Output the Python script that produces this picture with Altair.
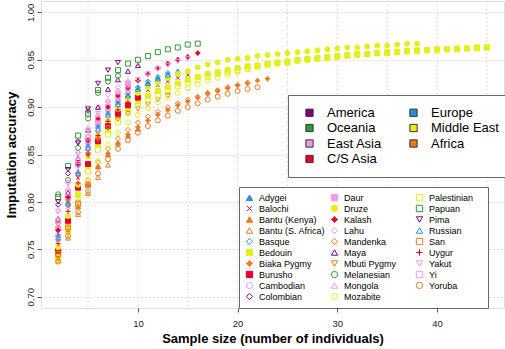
import altair as alt
import pandas as pd

START_X = 2

# ---------- accuracy values (sample size 2, 3, 4, ...) ----------
acc_adygei = [0.765, 0.800, 0.832, 0.860, 0.880, 0.894, 0.905, 0.913, 0.920, 0.926, 0.931, 0.935, 0.938]
acc_balochi = [0.760, 0.795, 0.825, 0.853, 0.872, 0.887, 0.898, 0.906, 0.912, 0.918, 0.923, 0.927, 0.931, 0.934]
acc_bantu_kenya = [0.742, 0.770, 0.795, 0.818, 0.837, 0.850, 0.862, 0.870, 0.877]
acc_bantu_sa = [0.738, 0.762, 0.787, 0.809, 0.826, 0.839]
acc_basque = [0.770, 0.805, 0.838, 0.862, 0.882, 0.897, 0.907, 0.915, 0.921, 0.927, 0.932, 0.936]
acc_bedouin = [0.745, 0.776, 0.808, 0.838, 0.860, 0.876, 0.889, 0.899, 0.906, 0.912, 0.917, 0.921, 0.925, 0.929,
               0.932, 0.935, 0.937, 0.939, 0.941, 0.943, 0.944, 0.946, 0.947, 0.948, 0.950, 0.951, 0.952, 0.953,
               0.954, 0.955, 0.956, 0.956, 0.957, 0.958, 0.958, 0.959, 0.960, 0.960, 0.961, 0.961, 0.962, 0.962,
               0.963, 0.963]
acc_biaka = [0.740, 0.768, 0.795, 0.818, 0.837, 0.851, 0.862, 0.871, 0.879, 0.886, 0.892, 0.897, 0.902, 0.906,
             0.910, 0.914, 0.917, 0.920, 0.923, 0.925, 0.928, 0.930]
acc_burusho = [0.748, 0.780, 0.815, 0.840, 0.864, 0.880, 0.893, 0.902, 0.910]
acc_cambodian = [0.765, 0.797, 0.830, 0.857, 0.880, 0.895, 0.905, 0.914]
acc_colombian = [0.797, 0.830, 0.864, 0.896]
acc_daur = [0.772, 0.805, 0.840, 0.865, 0.885, 0.900, 0.912, 0.925]
acc_druze = [0.752, 0.785, 0.818, 0.848, 0.870, 0.886, 0.898, 0.908, 0.915, 0.921, 0.926, 0.931, 0.935, 0.938,
             0.942, 0.945, 0.947, 0.950, 0.951, 0.952, 0.954, 0.955, 0.956, 0.957, 0.958, 0.959, 0.960, 0.961,
             0.962, 0.963, 0.963, 0.964, 0.965, 0.965, 0.966, 0.967, 0.967]
acc_kalash = [0.770, 0.805, 0.840, 0.865, 0.888, 0.900, 0.912, 0.920, 0.928, 0.935, 0.941, 0.946, 0.950, 0.953, 0.957]
acc_lahu = [0.790, 0.820, 0.852, 0.878, 0.900, 0.913, 0.921]
acc_mandenka = [0.744, 0.772, 0.800, 0.823, 0.842, 0.856, 0.867, 0.876, 0.884, 0.890, 0.895, 0.900, 0.904, 0.908,
                0.911, 0.915, 0.918, 0.921, 0.923, 0.926]
acc_maya = [0.782, 0.810, 0.846, 0.876, 0.900, 0.919, 0.929, 0.938, 0.944]
acc_mbuti = [0.776, 0.800, 0.828, 0.850, 0.866, 0.878, 0.887, 0.893, 0.898, 0.903, 0.908, 0.912]
acc_melanesian = [0.808, 0.823, 0.857, 0.888, 0.915, 0.927, 0.933]
acc_mongola = [0.783, 0.815, 0.845, 0.870, 0.892, 0.907, 0.918, 0.928]
acc_mozabite = [0.738, 0.768, 0.798, 0.823, 0.843, 0.860, 0.873, 0.884, 0.892, 0.899, 0.905, 0.910, 0.915, 0.920,
                0.924, 0.928, 0.931, 0.934, 0.937, 0.940, 0.942, 0.944, 0.946, 0.947, 0.949, 0.950, 0.951]
acc_palestinian = [0.740, 0.770, 0.802, 0.832, 0.855, 0.871, 0.884, 0.894, 0.902, 0.908, 0.913, 0.918, 0.922, 0.926,
                   0.929, 0.932, 0.935, 0.937, 0.939, 0.941, 0.943, 0.945, 0.946, 0.947, 0.949, 0.950, 0.951, 0.952,
                   0.953, 0.954, 0.955, 0.956, 0.957, 0.957, 0.958, 0.959, 0.959, 0.960, 0.960, 0.961, 0.961, 0.962,
                   0.962, 0.963]
acc_papuan = [0.805, 0.838, 0.870, 0.893, 0.918, 0.931, 0.939, 0.946, 0.950, 0.954, 0.958, 0.961, 0.963, 0.966, 0.967]
acc_pima = [0.800, 0.834, 0.862, 0.898, 0.925, 0.939, 0.947]
acc_russian = [0.762, 0.798, 0.830, 0.857, 0.877, 0.892, 0.903, 0.912, 0.919, 0.925, 0.930, 0.934]
acc_san = [0.745, 0.773, 0.798, 0.818]
acc_uygur = [0.756, 0.790, 0.820, 0.850, 0.870, 0.885, 0.897, 0.905]
acc_yakut = [0.790, 0.820, 0.850, 0.875, 0.893, 0.905, 0.915, 0.922, 0.929, 0.935, 0.940, 0.944, 0.948, 0.951]
acc_yi = [0.780, 0.810, 0.843, 0.868, 0.888, 0.900, 0.912, 0.920]
acc_yoruba = [0.737, 0.764, 0.789, 0.811, 0.830, 0.845, 0.856, 0.865, 0.873, 0.880, 0.886, 0.891, 0.896, 0.900,
              0.904, 0.908, 0.911, 0.914, 0.917, 0.919, 0.921]

populations = ["Adygei", "Balochi", "Bantu (Kenya)", "Bantu (S. Africa)", "Basque", "Bedouin",
               "Biaka Pygmy", "Burusho", "Cambodian", "Colombian",
               "Daur", "Druze", "Kalash", "Lahu", "Mandenka", "Maya", "Mbuti Pygmy", "Melanesian",
               "Mongola", "Mozabite",
               "Palestinian", "Papuan", "Pima", "Russian", "San", "Uygur", "Yakut", "Yi", "Yoruba"]
pop_region = ["Europe", "C/S Asia", "Africa", "Africa", "Europe", "Middle East",
              "Africa", "C/S Asia", "East Asia", "America",
              "East Asia", "Middle East", "C/S Asia", "East Asia", "Africa", "America", "Africa", "Oceania",
              "East Asia", "Middle East",
              "Middle East", "Oceania", "America", "Europe", "Africa", "C/S Asia", "East Asia", "East Asia", "Africa"]
pop_values = [acc_adygei, acc_balochi, acc_bantu_kenya, acc_bantu_sa, acc_basque, acc_bedouin,
              acc_biaka, acc_burusho, acc_cambodian, acc_colombian,
              acc_daur, acc_druze, acc_kalash, acc_lahu, acc_mandenka, acc_maya, acc_mbuti, acc_melanesian,
              acc_mongola, acc_mozabite,
              acc_palestinian, acc_papuan, acc_pima, acc_russian, acc_san, acc_uygur, acc_yakut, acc_yi, acc_yoruba]

regions = ["America", "Oceania", "East Asia", "C/S Asia", "Europe", "Middle East", "Africa"]
x_ticks = [10, 20, 30, 40]
x_grid = [5, 10, 15, 20, 25, 30, 35, 40, 45]
y_ticks = [0.70, 0.75, 0.80, 0.85, 0.90, 0.95, 1.00]

# ---------- styles ----------
region_color = {"America": "#800080", "Oceania": "#339933", "East Asia": "#f49ae0", "C/S Asia": "#e8002d",
                "Europe": "#2b90d9", "Middle East": "#e2f01a", "Africa": "#f07820"}
STAR = "M0,-1L0.4,-0.4L1,0L0.4,0.4L0,1L-0.4,0.4L-1,0L-0.4,-0.4Z"
XMARK = "M-0.75,-0.75L0.75,0.75M-0.75,0.75L0.75,-0.75"
PLUS = "M-1,0L1,0M0,-1L0,1"
pop_shape = ["triangle-up", XMARK, "triangle-up", "triangle-up", "diamond", "square",
             STAR, "square", "circle", "diamond",
             "square", "circle", STAR, "diamond", "diamond", "triangle-up", "triangle-down", "circle",
             "triangle-up", "circle",
             "square", "square", "triangle-down", "triangle-up", "square", PLUS, "triangle-down", "square", "circle"]
pop_filled = [True, False, True, False, False, True,
              True, True, False, False,
              True, True, True, False, False, False, False, False,
              False, False,
              False, False, False, False, False, False, False, False, False]

rows = []
for name, vals in zip(populations, pop_values):
    for i, v in enumerate(vals):
        rows.append({"pop": name, "size": START_X + i, "acc": v})
df = pd.DataFrame(rows)

pop_shapes = pop_shape
pop_strokes = [region_color[r] for r in pop_region]
pop_fills = [region_color[r] if f else "transparent" for r, f in zip(pop_region, pop_filled)]
reg_colors = [region_color[r] for r in regions]

FONT = "Liberation Sans"
GRID = "#cdb3df"

xscale = alt.Scale(domain=[0.28, 46.72], nice=False, zero=False)
yscale = alt.Scale(domain=[0.688, 1.012], nice=False, zero=False)

x_axis = alt.Axis(values=x_ticks, title="Sample size (number of individuals)", grid=False,
                  domain=False, tickColor="#555555", tickSize=4, labelFontSize=9.5, labelFont=FONT,
                  labelColor="#222222", labelPadding=6, titleFont=FONT, titleFontSize=13,
                  titleFontWeight="bold", titleColor="black", titlePadding=5)

pop_legend = alt.Legend(orient="none", legendX=198, legendY=186, title=" ", titleOrient="right",
                        titlePadding=9, titleFontSize=9, columns=3, gridAlign="all",
                        symbolSize=40, symbolStrokeWidth=1, labelFontSize=9, labelFont=FONT, labelColor="black",
                        padding=6, rowPadding=0, columnPadding=3, labelOffset=5,
                        strokeColor="#666666", fillColor="white", symbolOpacity=1)

grid_rules = alt.Chart(pd.DataFrame({"g": x_grid})).mark_rule(
    color=GRID, strokeDash=[1, 3], strokeWidth=1
).encode(x=alt.X("g:Q", scale=xscale, axis=x_axis, title="Sample size (number of individuals)"))

points = alt.Chart(df).mark_point(size=25, strokeWidth=1, opacity=1, filled=False).encode(
    x=alt.X("size:Q", scale=xscale, axis=x_axis, title="Sample size (number of individuals)"),
    y=alt.Y("acc:Q", scale=yscale,
            axis=alt.Axis(values=y_ticks, format=".2f", title="Imputation accuracy", grid=True,
                          gridColor=GRID, gridDash=[1, 3], gridWidth=1, domain=False,
                          tickColor="#555555", tickSize=4, labelAngle=270, labelAlign="center",
                          labelBaseline="bottom", labelFontSize=9.5, labelFont=FONT, labelColor="#222222",
                          labelPadding=2, titleFont=FONT, titleFontSize=13, titleFontWeight="bold",
                          titleColor="black", titlePadding=7)),
    shape=alt.Shape("pop:N", scale=alt.Scale(domain=populations, range=pop_shapes), legend=pop_legend),
    stroke=alt.Stroke("pop:N", scale=alt.Scale(domain=populations, range=pop_strokes), legend=pop_legend),
    fill=alt.Fill("pop:N", scale=alt.Scale(domain=populations, range=pop_fills), legend=pop_legend),
)

region_layer = alt.Chart(pd.DataFrame({"region": regions})).mark_square(
    filled=True, stroke="#333333", strokeWidth=1, opacity=1
).encode(
    color=alt.Color("region:N", scale=alt.Scale(domain=regions, range=reg_colors),
                    legend=alt.Legend(orient="none", legendX=247, legendY=94, title=None, columns=2,
                                      gridAlign="each", symbolType="square", symbolSize=53,
                                      symbolStrokeColor="#333333", symbolStrokeWidth=1, symbolOpacity=1,
                                      labelFontSize=13, labelFont=FONT, labelColor="black",
                                      padding=11, rowPadding=1.5, columnPadding=21, labelOffset=11,
                                      symbolOffset=4, strokeColor="#666666", fillColor="white"))
).transform_filter("false")

chart = alt.layer(grid_rules, points, region_layer).properties(
    width=463, height=307,
    autosize=alt.AutoSizeParams(type="none"),
    padding={"left": 41, "top": 1, "right": 1, "bottom": 41},
).configure_view(stroke="#555555", strokeWidth=1).configure(font=FONT)

chart.save("out.html", embed_options={"renderer": "svg", "actions": False})
